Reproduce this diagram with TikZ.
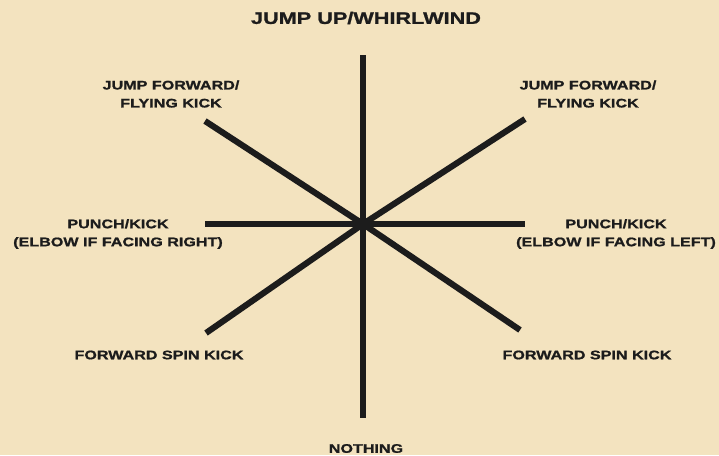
\documentclass[tikz,border=0pt]{standalone}
\usepackage{fontspec}
\setmainfont{Liberation Sans}
\newfontfamily\padfont[FakeStretch=1.3,FakeBold=1.2]{Liberation Sans Bold}
\usetikzlibrary{positioning}
\definecolor{Paper}{HTML}{F3E3BF}
\definecolor{Ink}{HTML}{1C1C1C}

\begin{document}
\begin{tikzpicture}[x=0.75pt,y=-0.75pt,
    spoke/.style={Ink,line width=4.6pt},
    move/.style={Ink,font=\padfont\fontsize{9.3}{13.5}\selectfont,align=center,inner sep=0pt}]
        \useasboundingbox (0,0) rectangle (719,455);
        \clip (0,0) rectangle (719,455);
        \fill[Paper] (0,0) rectangle (719,455);

        % stick directions
        \coordinate (hub) at (363,224);
        \coordinate (n) at (363,55);
        \coordinate (s) at (363,418);
        \coordinate (w) at (205,224);
        \coordinate (e) at (525,224);
        \coordinate (nw) at (205,121);
        \coordinate (ne) at (525,119);
        \coordinate (sw) at (206,333);
        \coordinate (se) at (520,330);
        \foreach \d in {n,s,w,e,nw,ne,sw,se}
          \draw[spoke] (hub) -- (\d);

        % moves
        \node[move,font=\padfont\fontsize{12.5}{15}\selectfont] (up) at (366,18) {JUMP UP/WHIRLWIND};
        \node[move] (upleft) at (171,94) {JUMP FORWARD/\\FLYING KICK};
        \node[move] (upright) at (588,94) {JUMP FORWARD/\\FLYING KICK};
        \node[move] (left) at (118,234) {PUNCH/KICK\\(ELBOW IF FACING RIGHT)};
        \node[move] (right) at (616,234) {PUNCH/KICK\\(ELBOW IF FACING LEFT)};
        \node[move] (downleft) at (159,355) {FORWARD SPIN KICK};
        \node[move] (downright) at (587,355) {FORWARD SPIN KICK};
        \node[move] (down) at (366,448.5) {NOTHING};
      \end{tikzpicture}
\end{document}
